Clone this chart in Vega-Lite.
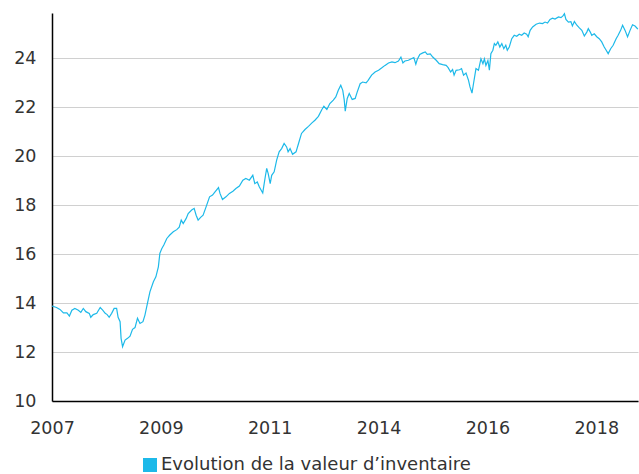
{
  "$schema": "https://vega.github.io/schema/vega-lite/v6.json",
  "width": 586,
  "height": 388,
  "autosize": {"type": "none"},
  "padding": {"left": 52, "top": 13, "right": 1, "bottom": 73},
  "background": "white",
  "config": {"view": {"stroke": null}, "font": "DejaVu Sans"},
  "data": {"values": [
    {"year": 2007.00, "value": 13.88}, {"year": 2007.09, "value": 13.82}, {"year": 2007.16, "value": 13.74},
    {"year": 2007.23, "value": 13.60}, {"year": 2007.30, "value": 13.60}, {"year": 2007.35, "value": 13.47},
    {"year": 2007.40, "value": 13.71}, {"year": 2007.46, "value": 13.78}, {"year": 2007.53, "value": 13.71},
    {"year": 2007.58, "value": 13.62}, {"year": 2007.63, "value": 13.78}, {"year": 2007.68, "value": 13.65},
    {"year": 2007.75, "value": 13.58}, {"year": 2007.78, "value": 13.42}, {"year": 2007.83, "value": 13.53},
    {"year": 2007.90, "value": 13.58}, {"year": 2007.97, "value": 13.82}, {"year": 2008.02, "value": 13.71},
    {"year": 2008.07, "value": 13.58}, {"year": 2008.11, "value": 13.53}, {"year": 2008.15, "value": 13.42},
    {"year": 2008.20, "value": 13.58}, {"year": 2008.25, "value": 13.78}, {"year": 2008.30, "value": 13.78},
    {"year": 2008.33, "value": 13.42}, {"year": 2008.37, "value": 13.24}, {"year": 2008.39, "value": 12.56},
    {"year": 2008.42, "value": 12.22}, {"year": 2008.47, "value": 12.49}, {"year": 2008.52, "value": 12.56},
    {"year": 2008.57, "value": 12.65}, {"year": 2008.62, "value": 12.93}, {"year": 2008.67, "value": 13.00},
    {"year": 2008.72, "value": 13.38}, {"year": 2008.77, "value": 13.17}, {"year": 2008.83, "value": 13.24},
    {"year": 2008.87, "value": 13.51}, {"year": 2008.92, "value": 13.99}, {"year": 2008.97, "value": 14.46},
    {"year": 2009.04, "value": 14.87}, {"year": 2009.09, "value": 15.07}, {"year": 2009.14, "value": 15.48},
    {"year": 2009.17, "value": 16.03}, {"year": 2009.21, "value": 16.23}, {"year": 2009.25, "value": 16.37},
    {"year": 2009.31, "value": 16.64}, {"year": 2009.37, "value": 16.78}, {"year": 2009.44, "value": 16.91},
    {"year": 2009.51, "value": 17.00}, {"year": 2009.56, "value": 17.10}, {"year": 2009.60, "value": 17.39},
    {"year": 2009.64, "value": 17.25}, {"year": 2009.70, "value": 17.46}, {"year": 2009.74, "value": 17.66},
    {"year": 2009.81, "value": 17.80}, {"year": 2009.86, "value": 17.87}, {"year": 2009.90, "value": 17.59},
    {"year": 2009.94, "value": 17.39}, {"year": 2009.99, "value": 17.50}, {"year": 2010.04, "value": 17.59},
    {"year": 2010.10, "value": 17.93}, {"year": 2010.17, "value": 18.34}, {"year": 2010.23, "value": 18.41},
    {"year": 2010.28, "value": 18.54}, {"year": 2010.35, "value": 18.72}, {"year": 2010.38, "value": 18.48},
    {"year": 2010.43, "value": 18.23}, {"year": 2010.50, "value": 18.34}, {"year": 2010.57, "value": 18.48},
    {"year": 2010.64, "value": 18.57}, {"year": 2010.70, "value": 18.68}, {"year": 2010.77, "value": 18.78},
    {"year": 2010.84, "value": 19.02}, {"year": 2010.90, "value": 19.09}, {"year": 2010.97, "value": 19.02},
    {"year": 2011.04, "value": 19.22}, {"year": 2011.08, "value": 18.88}, {"year": 2011.13, "value": 18.95},
    {"year": 2011.17, "value": 18.75}, {"year": 2011.24, "value": 18.50}, {"year": 2011.29, "value": 19.15},
    {"year": 2011.32, "value": 19.50}, {"year": 2011.35, "value": 19.29}, {"year": 2011.39, "value": 18.88},
    {"year": 2011.42, "value": 19.22}, {"year": 2011.47, "value": 19.36}, {"year": 2011.52, "value": 19.84},
    {"year": 2011.57, "value": 20.18}, {"year": 2011.62, "value": 20.31}, {"year": 2011.67, "value": 20.52},
    {"year": 2011.72, "value": 20.38}, {"year": 2011.75, "value": 20.18}, {"year": 2011.79, "value": 20.31},
    {"year": 2011.84, "value": 20.08}, {"year": 2011.91, "value": 20.18}, {"year": 2011.96, "value": 20.52},
    {"year": 2012.02, "value": 20.93}, {"year": 2012.09, "value": 21.09}, {"year": 2012.16, "value": 21.22},
    {"year": 2012.23, "value": 21.36}, {"year": 2012.29, "value": 21.47}, {"year": 2012.36, "value": 21.63},
    {"year": 2012.43, "value": 21.91}, {"year": 2012.47, "value": 22.04}, {"year": 2012.53, "value": 21.91},
    {"year": 2012.59, "value": 22.15}, {"year": 2012.66, "value": 22.29}, {"year": 2012.71, "value": 22.42},
    {"year": 2012.76, "value": 22.69}, {"year": 2012.81, "value": 22.90}, {"year": 2012.85, "value": 22.69},
    {"year": 2012.88, "value": 22.29}, {"year": 2012.90, "value": 21.84}, {"year": 2012.94, "value": 22.36},
    {"year": 2012.98, "value": 22.56}, {"year": 2013.04, "value": 22.32}, {"year": 2013.10, "value": 22.36},
    {"year": 2013.14, "value": 22.62}, {"year": 2013.20, "value": 22.96}, {"year": 2013.25, "value": 23.03},
    {"year": 2013.32, "value": 23.00}, {"year": 2013.36, "value": 23.10}, {"year": 2013.43, "value": 23.31},
    {"year": 2013.50, "value": 23.44}, {"year": 2013.57, "value": 23.51}, {"year": 2013.63, "value": 23.60},
    {"year": 2013.70, "value": 23.71}, {"year": 2013.77, "value": 23.81}, {"year": 2013.84, "value": 23.85},
    {"year": 2013.90, "value": 23.82}, {"year": 2013.97, "value": 23.89}, {"year": 2014.02, "value": 24.05},
    {"year": 2014.06, "value": 23.81}, {"year": 2014.10, "value": 23.89}, {"year": 2014.17, "value": 23.92},
    {"year": 2014.24, "value": 23.99}, {"year": 2014.28, "value": 24.03}, {"year": 2014.32, "value": 23.76},
    {"year": 2014.35, "value": 23.96}, {"year": 2014.40, "value": 24.16}, {"year": 2014.46, "value": 24.22},
    {"year": 2014.51, "value": 24.26}, {"year": 2014.55, "value": 24.16}, {"year": 2014.61, "value": 24.18},
    {"year": 2014.66, "value": 24.05}, {"year": 2014.73, "value": 23.92}, {"year": 2014.79, "value": 23.78},
    {"year": 2014.86, "value": 23.74}, {"year": 2014.93, "value": 23.71}, {"year": 2014.97, "value": 23.62},
    {"year": 2015.02, "value": 23.44}, {"year": 2015.06, "value": 23.54}, {"year": 2015.09, "value": 23.31},
    {"year": 2015.13, "value": 23.51}, {"year": 2015.20, "value": 23.53}, {"year": 2015.24, "value": 23.58},
    {"year": 2015.28, "value": 23.31}, {"year": 2015.33, "value": 23.40}, {"year": 2015.38, "value": 23.10},
    {"year": 2015.41, "value": 22.83}, {"year": 2015.45, "value": 22.58}, {"year": 2015.48, "value": 22.96},
    {"year": 2015.53, "value": 23.58}, {"year": 2015.58, "value": 23.51}, {"year": 2015.63, "value": 23.98},
    {"year": 2015.67, "value": 23.78}, {"year": 2015.70, "value": 23.98}, {"year": 2015.73, "value": 23.71},
    {"year": 2015.77, "value": 23.91}, {"year": 2015.80, "value": 23.51}, {"year": 2015.83, "value": 24.19},
    {"year": 2015.87, "value": 24.33}, {"year": 2015.90, "value": 24.60}, {"year": 2015.93, "value": 24.53},
    {"year": 2015.97, "value": 24.67}, {"year": 2016.01, "value": 24.46}, {"year": 2016.05, "value": 24.60},
    {"year": 2016.09, "value": 24.39}, {"year": 2016.13, "value": 24.53}, {"year": 2016.16, "value": 24.33},
    {"year": 2016.20, "value": 24.46}, {"year": 2016.25, "value": 24.80}, {"year": 2016.30, "value": 24.94},
    {"year": 2016.35, "value": 24.90}, {"year": 2016.40, "value": 24.98}, {"year": 2016.45, "value": 24.94},
    {"year": 2016.50, "value": 25.03}, {"year": 2016.55, "value": 24.98}, {"year": 2016.58, "value": 24.88},
    {"year": 2016.62, "value": 25.14}, {"year": 2016.67, "value": 25.28}, {"year": 2016.74, "value": 25.39},
    {"year": 2016.81, "value": 25.44}, {"year": 2016.87, "value": 25.42}, {"year": 2016.92, "value": 25.48},
    {"year": 2016.97, "value": 25.44}, {"year": 2017.02, "value": 25.59}, {"year": 2017.07, "value": 25.64},
    {"year": 2017.12, "value": 25.60}, {"year": 2017.19, "value": 25.69}, {"year": 2017.24, "value": 25.66},
    {"year": 2017.28, "value": 25.73}, {"year": 2017.31, "value": 25.82}, {"year": 2017.34, "value": 25.59},
    {"year": 2017.39, "value": 25.48}, {"year": 2017.44, "value": 25.50}, {"year": 2017.47, "value": 25.32},
    {"year": 2017.51, "value": 25.50}, {"year": 2017.56, "value": 25.35}, {"year": 2017.61, "value": 25.24},
    {"year": 2017.66, "value": 25.14}, {"year": 2017.71, "value": 24.91}, {"year": 2017.76, "value": 25.07},
    {"year": 2017.79, "value": 25.21}, {"year": 2017.83, "value": 25.07}, {"year": 2017.86, "value": 24.94},
    {"year": 2017.91, "value": 25.00}, {"year": 2017.96, "value": 24.88}, {"year": 2018.01, "value": 24.80},
    {"year": 2018.06, "value": 24.67}, {"year": 2018.11, "value": 24.46}, {"year": 2018.15, "value": 24.33},
    {"year": 2018.19, "value": 24.19}, {"year": 2018.24, "value": 24.39}, {"year": 2018.29, "value": 24.53},
    {"year": 2018.35, "value": 24.80}, {"year": 2018.39, "value": 24.94}, {"year": 2018.44, "value": 25.14},
    {"year": 2018.48, "value": 25.35}, {"year": 2018.53, "value": 25.14}, {"year": 2018.58, "value": 24.88},
    {"year": 2018.63, "value": 25.14}, {"year": 2018.68, "value": 25.37}, {"year": 2018.73, "value": 25.32},
    {"year": 2018.78, "value": 25.21}, {"year": 2018.79, "value": 25.20}
  ]},
  "mark": {"type": "line", "strokeWidth": 1.2},
  "encoding": {
    "x": {
      "field": "year", "type": "quantitative",
      "scale": {"domain": [2007, 2018.79], "nice": false, "zero": false},
      "axis": {
        "values": [2007, 2009.19, 2011.38, 2013.57, 2015.76, 2017.95],
        "format": ".0f", "title": null, "grid": false, "ticks": false,
        "domainColor": "#000000", "domainWidth": 1.5,
        "labelFontSize": 17.5, "labelColor": "#333333", "labelPadding": 18,
        "labelFlush": false, "labelOverlap": false
      }
    },
    "y": {
      "field": "value", "type": "quantitative",
      "scale": {"domain": [10, 25.85], "nice": false, "zero": false},
      "axis": {
        "values": [10, 12, 14, 16, 18, 20, 22, 24],
        "title": null, "ticks": false, "grid": true,
        "gridColor": "#d0d0d0", "gridWidth": 1,
        "domainColor": "#000000", "domainWidth": 1.5,
        "labelFontSize": 17.5, "labelColor": "#333333", "labelPadding": 16
      }
    },
    "color": {
      "datum": "Evolution de la valeur d’inventaire", "type": "nominal",
      "scale": {"range": ["#1DB9E9"]},
      "legend": {
        "title": null, "orient": "none", "legendX": 89, "legendY": 443,
        "padding": 0, "symbolType": "square", "symbolSize": 196,
        "symbolFillColor": "#1DB9E9", "symbolStrokeWidth": 0,
        "labelFontSize": 18, "labelColor": "#333333", "labelOffset": 2,
        "labelLimit": 0
      }
    }
  }
}
